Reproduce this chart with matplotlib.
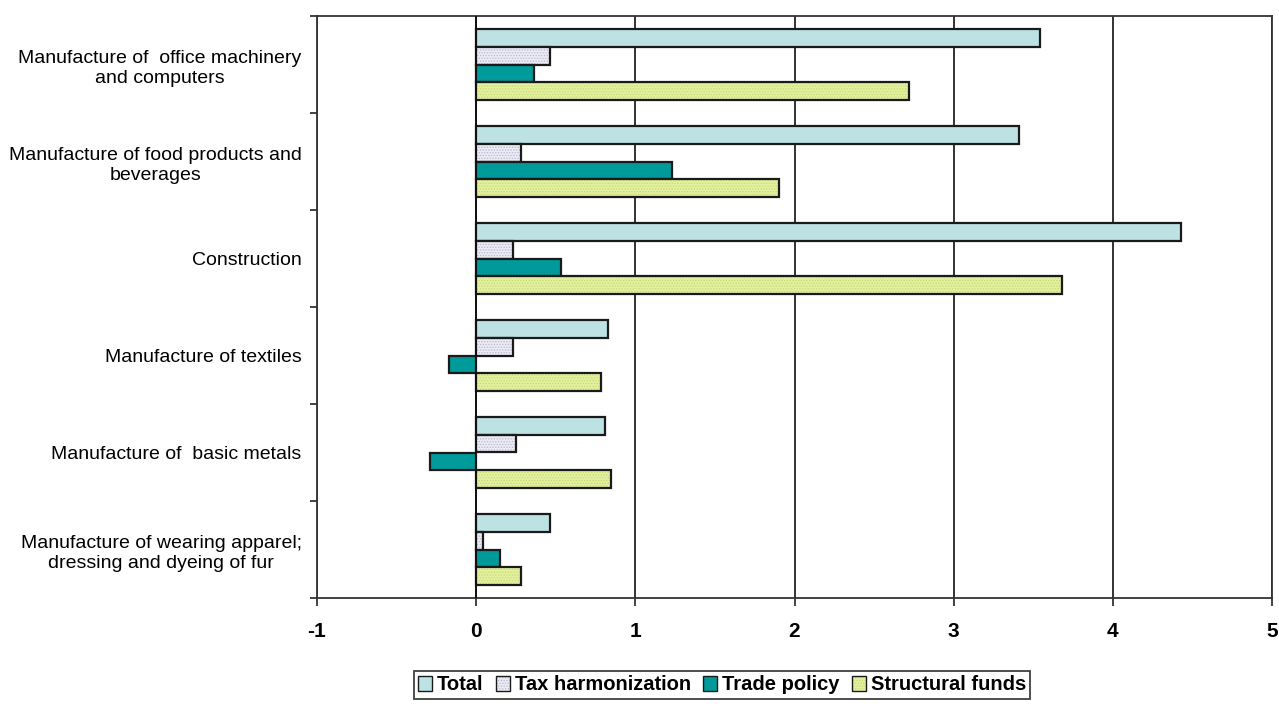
import matplotlib
matplotlib.use("Agg")
import matplotlib.pyplot as plt
import numpy as np
from matplotlib.ticker import FixedLocator

categories = [
    "Manufacture of  office machinery\nand computers",
    "Manufacture of food products and\nbeverages",
    "Construction",
    "Manufacture of textiles",
    "Manufacture of  basic metals",
    "Manufacture of wearing apparel;\ndressing and dyeing of fur",
]
series_names = ["Total", "Tax harmonization", "Trade policy", "Structural funds"]
total = [3.54, 3.41, 4.43, 0.83, 0.81, 0.465]
tax_harmonization = [0.465, 0.28, 0.23, 0.23, 0.25, 0.04]
trade_policy = [0.365, 1.23, 0.53, -0.17, -0.29, 0.15]
structural_funds = [2.72, 1.90, 3.68, 0.785, 0.85, 0.28]
x_ticks = [-1, 0, 1, 2, 3, 4, 5]

plt.rcParams['font.family'] = ['Liberation Sans', 'DejaVu Sans']
plt.rcParams['hatch.linewidth'] = 0.6

fig = plt.figure(figsize=(12.79, 7.04), dpi=100)
ax = fig.add_axes([317/1279, 1-598/704, (1272-317)/1279, (598-16)/704])

styles = [
    dict(color="#BCE2E4", hatch=None, hc=None),
    dict(color="#EBEBF5", hatch="......", hc="#B8B8D0"),
    dict(color="#009A9A", hatch=None, hc=None),
    dict(color="#E2F0A0", hatch="......", hc="#C4DC70"),
]
data = [total, tax_harmonization, trade_policy, structural_funds]
y = np.arange(len(categories))
w = 0.182
for k, (vals, st, name) in enumerate(zip(data, styles, series_names)):
    offs = (k - 1.5) * w
    bars = ax.barh(y + offs, vals, height=w, color=st["color"], edgecolor="#1a1a1a",
                   linewidth=1.6, label=name, zorder=3)
    if st["hatch"]:
        for b in bars:
            b.set_hatch(st["hatch"])
            b._hatch_color = matplotlib.colors.to_rgba(st["hc"])

ax.set_xlim(-1, 5)
ax.set_ylim(len(categories) - 0.5, -0.5)
ax.set_xticks(x_ticks)
ax.set_xticklabels([str(t) for t in x_ticks], fontsize=15, fontweight="bold")
ax.tick_params(axis="x", length=6, width=1.2, direction="out", pad=11, color="#222222")
ax.set_yticks(y)
ax.set_yticklabels(categories, fontsize=14, ha="right", multialignment="center",
                   linespacing=1.3)
ax.tick_params(axis="y", which="major", length=0, pad=11)
ax.yaxis.set_minor_locator(FixedLocator(np.arange(len(categories) + 1) - 0.5))
ax.tick_params(axis="y", which="minor", length=5, width=1.2, direction="out", color="#222222")
ax.grid(axis="x", color="#333333", linewidth=1.4, zorder=1)
for s in ax.spines.values():
    s.set_color("#333333")
    s.set_linewidth(1.3)
ax.axvline(0, color="#111111", linewidth=1.4, zorder=4)

leg = fig.legend(loc="center left", bbox_to_anchor=(414/1279, 1-685/704), ncol=4,
                 prop={"weight": "bold", "size": 14.5}, frameon=True, fancybox=False,
                 handlelength=0.7, handleheight=0.7, handletextpad=0.25,
                 columnspacing=0.6, borderpad=0.2, borderaxespad=0)
leg.get_frame().set_edgecolor("#111111")
leg.get_frame().set_linewidth(1.3)
for h in leg.legend_handles:
    h.set_linewidth(1.0)

fig.savefig("out.png", dpi=100)
